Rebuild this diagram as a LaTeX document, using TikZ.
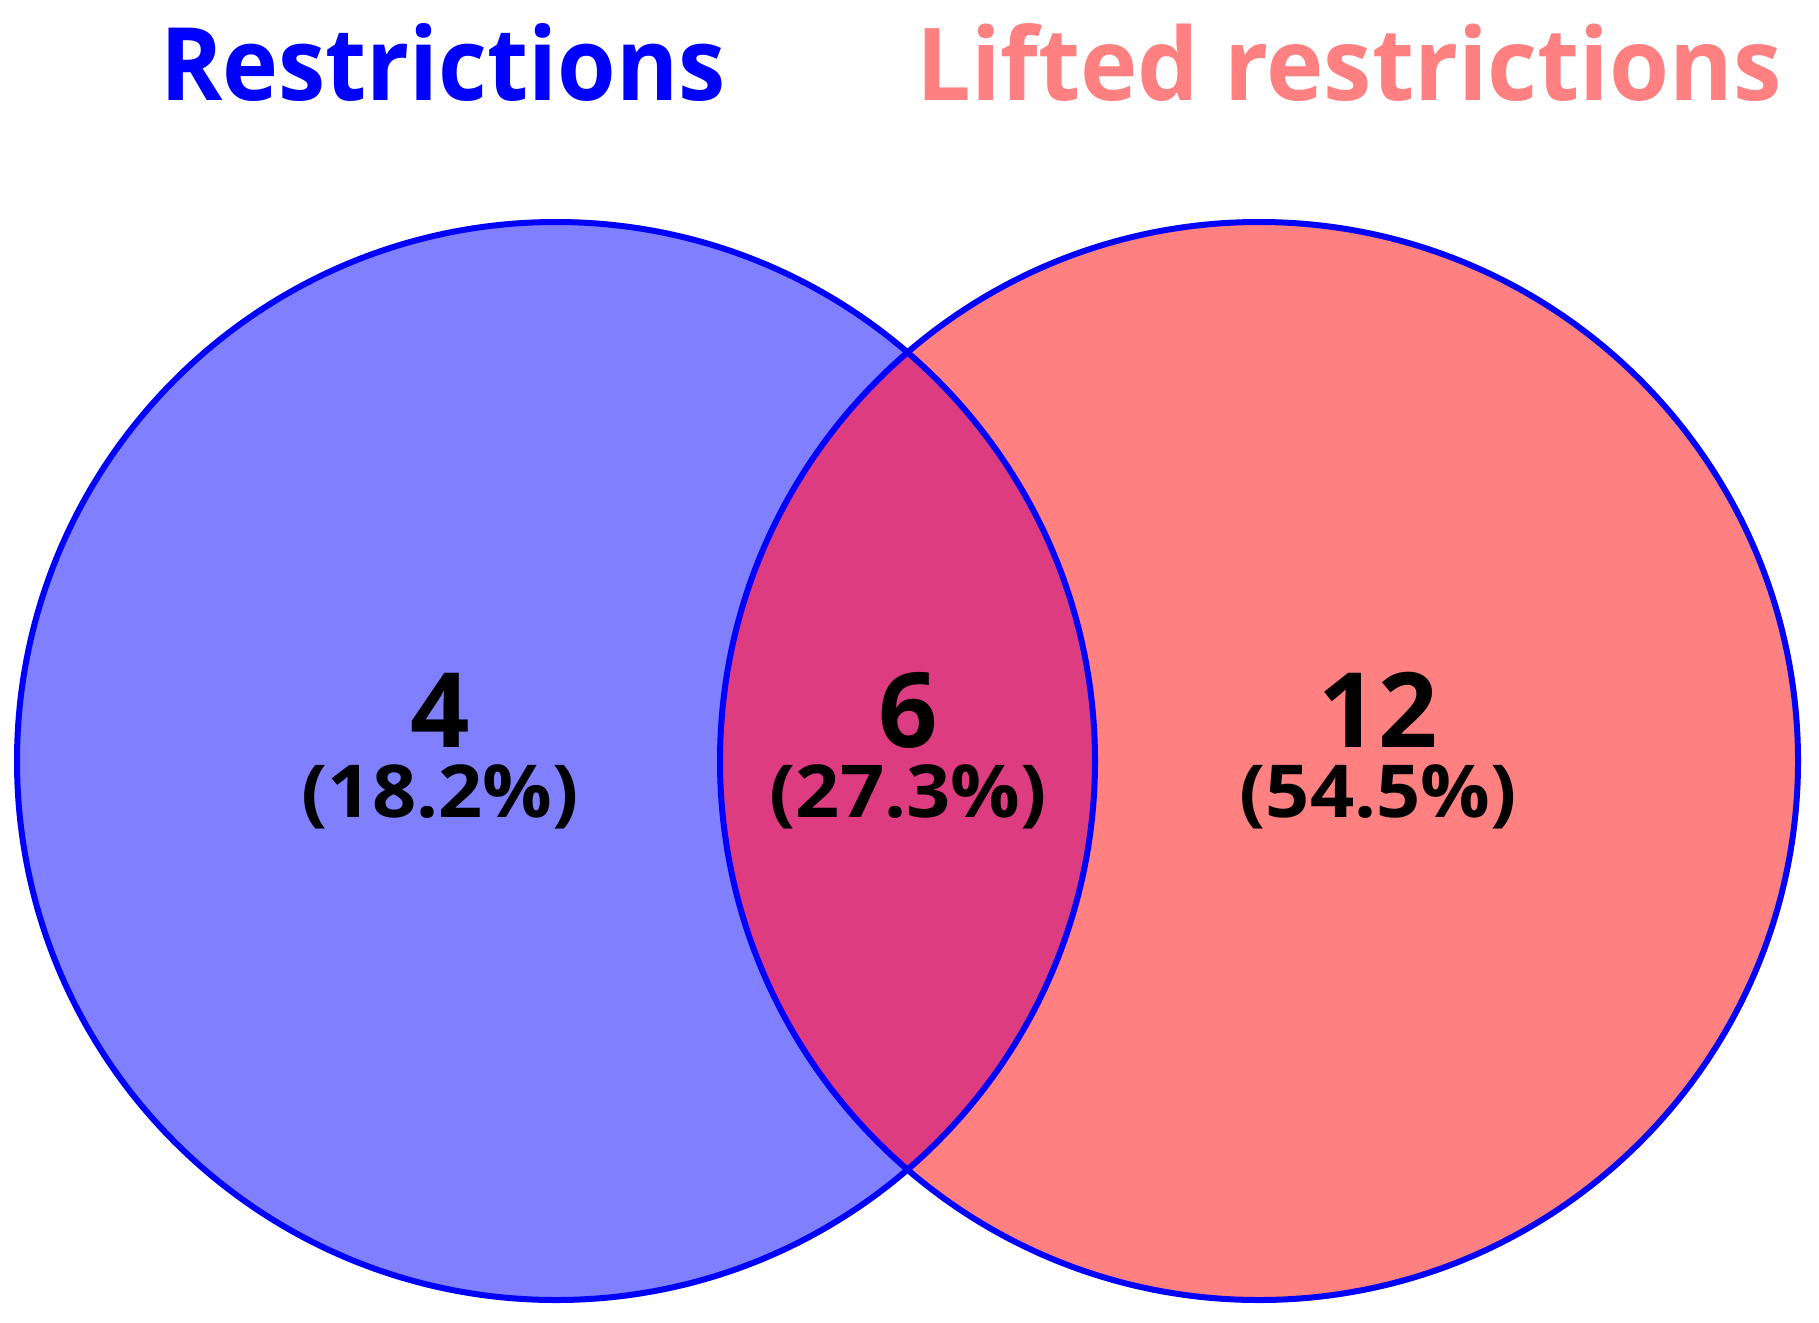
\documentclass[tikz,border=0pt]{standalone}
\usepackage{fontspec}
\setmainfont{Open Sans}
\usepackage{graphicx}
\definecolor{setA}{RGB}{128,128,255}
\definecolor{setB}{RGB}{255,128,128}
\definecolor{setAB}{RGB}{221,61,128}
\definecolor{edgeblue}{RGB}{0,0,255}
\newcommand{\countpct}[2]{{\fontsize{104}{70}\selectfont #1}\\\scalebox{1.06}[1]{#2}}
\begin{document}
\begin{tikzpicture}[x=1pt,y=-1pt,
  ring/.style={draw=edgeblue,line width=6pt},
  regionlbl/.style={anchor=base,inner sep=0pt,align=center,font=\fontsize{73}{70}\selectfont\bfseries},
  titlelbl/.style={anchor=base west,inner sep=0pt,font=\bfseries}]
\useasboundingbox[fill=white] (0,0) rectangle (1819,1322);
\coordinate (cA) at (556,761);
\coordinate (cB) at (1259,761);
\fill[setA] (cA) circle[radius=539pt];
\fill[setB] (cB) circle[radius=539pt];
\begin{scope}
  \clip (cA) circle[radius=539pt];
  \fill[setAB] (cB) circle[radius=539pt];
\end{scope}
\draw[ring] (cA) circle[radius=539pt];
\draw[ring] (cB) circle[radius=539pt];
\node[titlelbl,text=edgeblue] (tA) at (160,100) {\resizebox{565pt}{77pt}{Restrictions}};
\node[titlelbl,text=setB] (tB) at (916,100) {\resizebox{865pt}{77pt}{Lifted restrictions}};
\node[regionlbl] (lA) at (440,817) {\countpct{4}{(18.2\%)}};
\node[regionlbl] (lAB) at (908,817) {\countpct{6}{(27.3\%)}};
\node[regionlbl] (lB) at (1378,817) {\countpct{12}{(54.5\%)}};
\end{tikzpicture}
\end{document}
